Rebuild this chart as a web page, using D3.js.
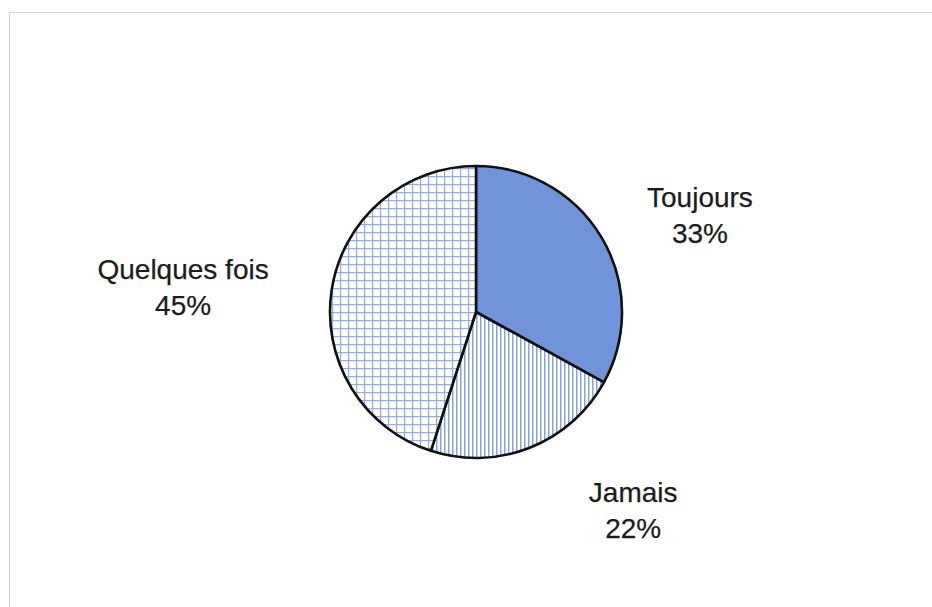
<!DOCTYPE html>
<html>
<head>
<meta charset="utf-8">
<script src="https://cdn.jsdelivr.net/npm/d3@7"></script>
<style>
  html, body { margin: 0; padding: 0; background: #fff; }
  svg { display: block; }
</style>
</head>
<body>
<svg id="chart" width="932" height="607"></svg>
<script>
// Réponses et parts (%)
const categories = ["Toujours", "Jamais", "Quelques fois"];
const values = [33, 22, 45];
const valueLabels = ["33%", "22%", "45%"];

const W = 932, H = 607;
const svg = d3.select("#chart");

// Cadre de la zone graphique
svg.append("path")
  .attr("d", `M9.5,${H} V12.5 H${W}`)
  .attr("fill", "none")
  .attr("stroke", "#d2d2d2")
  .attr("stroke-width", 1);

const cx = 476, cy = 312, radius = 146;

// Motifs de remplissage
const defs = svg.append("defs");
const stripes = defs.append("pattern")
  .attr("id", "stripes")
  .attr("patternUnits", "userSpaceOnUse")
  .attr("width", 4).attr("height", 4);
stripes.append("rect").attr("width", 4).attr("height", 4).attr("fill", "#ffffff");
stripes.append("rect").attr("x", 0).attr("width", 1.5).attr("height", 4).attr("fill", "#86a2e3");

const gs = 8;
const grid = defs.append("pattern")
  .attr("id", "grid")
  .attr("patternUnits", "userSpaceOnUse")
  .attr("width", gs).attr("height", gs);
grid.append("rect").attr("width", gs).attr("height", gs).attr("fill", "#ffffff");
grid.append("rect").attr("x", 0).attr("width", 1.2).attr("height", gs).attr("fill", "#93abe8");
grid.append("rect").attr("y", 0).attr("width", gs).attr("height", 1.2).attr("fill", "#93abe8");

const fills = d3.scaleOrdinal()
  .domain(categories)
  .range(["#7093da", "url(#stripes)", "url(#grid)"]);

const pie = d3.pie().sort(null).value(d => d.value);
const data = categories.map((c, i) => ({ cat: c, value: values[i], label: valueLabels[i] }));
const arcs = pie(data);
const arc = d3.arc().innerRadius(0).outerRadius(radius);

const g = svg.append("g").attr("transform", `translate(${cx},${cy})`);
g.selectAll("path.slice")
  .data(arcs)
  .join("path")
  .attr("class", "slice")
  .attr("d", arc)
  .attr("fill", d => fills(d.data.cat))
  .attr("stroke", "#111")
  .attr("stroke-width", 2.6)
  .attr("stroke-linejoin", "round");

// Étiquettes à l'extérieur du disque (angle/rayon de placement par catégorie)
const labelPlacement = {
  "Toujours": { angle: 66.6, dist: 244 },
  "Jamais": { angle: 141.6, dist: 253 },
  "Quelques fois": { angle: 274.9, dist: 294 }
};
const lineGap = 36;
const labels = g.selectAll("text.lbl")
  .data(arcs)
  .join("text")
  .attr("class", "lbl")
  .attr("text-anchor", "middle")
  .attr("font-family", "Liberation Sans, Arial, sans-serif")
  .attr("font-size", 28)
  .attr("fill", "#1c1c1c")
  .attr("stroke", "#1c1c1c")
  .attr("stroke-width", 0.25)
  .attr("transform", d => {
    const p = labelPlacement[d.data.cat];
    const a = p.angle * Math.PI / 180;
    return `translate(${p.dist * Math.sin(a)},${-p.dist * Math.cos(a)})`;
  });
labels.append("tspan").attr("x", 0).attr("y", -8).text(d => d.data.cat);
labels.append("tspan").attr("x", 0).attr("y", -8 + lineGap).text(d => d.data.label);
</script>
</body>
</html>
